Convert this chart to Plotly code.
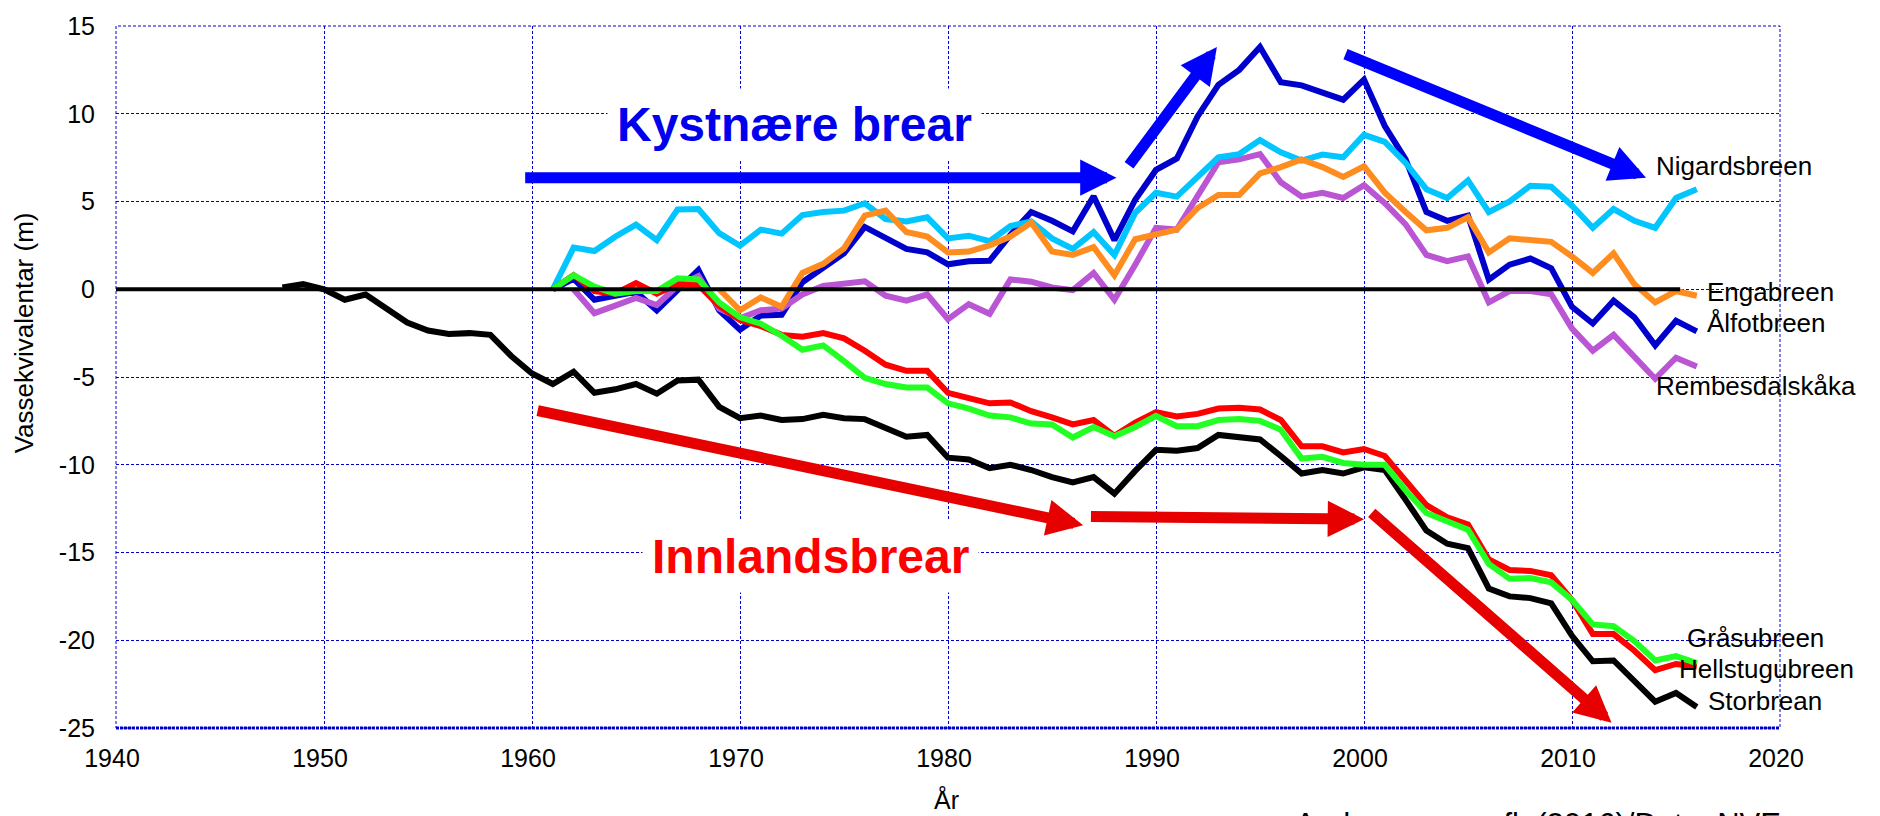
import plotly.graph_objects as go

# ---------------- data ----------------
years_61 = list(range(1961, 2017))
years_62 = list(range(1962, 2017))
years_69 = list(range(1969, 2017))
years_48 = list(range(1948, 2017))

nigardsbreen = [0, 2.37, 2.18, 2.99, 3.68, 2.8, 4.55, 4.57, 3.2, 2.48,
                3.4, 3.17, 4.23, 4.4, 4.48, 4.9, 4.0, 3.86, 4.1, 2.9,
                3.05, 2.74, 3.6, 3.86, 2.9, 2.3, 3.25, 1.95, 4.35, 5.5,
                5.28, 6.44, 7.52, 7.7, 8.5, 7.8, 7.33, 7.67, 7.52, 8.8,
                8.4, 7.2, 5.7, 5.2, 6.2, 4.4, 5.0, 5.9, 5.84, 4.76,
                3.5, 4.57, 3.9, 3.5, 5.2, 5.7]

alfotbreen = [0, 0.6, -0.6, -0.4, -0.15, -1.2, -0.1, 1.1, -1.2, -2.3,
              -1.5, -1.45, 0.4, 1.2, 2.05, 3.55, 2.9, 2.3, 2.1, 1.42,
              1.6, 1.62, 3.1, 4.4, 3.9, 3.3, 5.3, 2.8, 5.1, 6.8,
              7.45, 9.85, 11.65, 12.5, 13.8, 11.8, 11.62, 11.2, 10.8, 11.95,
              9.3, 7.4, 4.4, 3.9, 4.2, 0.55, 1.4, 1.75, 1.2, -1.0,
              -1.95, -0.65, -1.6, -3.2, -1.8, -2.4]

engabreen = [0, -1.2, -0.47, -1.0, 0.93, 1.45, 2.33, 4.2, 4.48, 3.26,
             3.0, 2.1, 2.15, 2.5, 3.0, 3.8, 2.15, 1.96, 2.4, 0.8,
             2.85, 3.15, 3.4, 4.63, 5.37, 5.37, 6.6, 6.96, 7.4, 6.96,
             6.4, 7.0, 5.5, 4.4, 3.36, 3.5, 4.1, 2.1, 2.9, 2.8,
             2.7, 1.87, 0.93, 2.05, 0.28, -0.75, -0.1, -0.37]

rembesdalskaka = [0, -1.36, -0.93, -0.5, -0.9, 0.2, 0.75, -1.1, -1.65,
                  -1.2, -1.1, -0.3, 0.19, 0.32, 0.45, -0.37, -0.65, -0.3, -1.7,
                  -0.85, -1.4, 0.56, 0.43, 0.1, -0.05, 0.93, -0.6, 1.4, 3.5,
                  3.4, 5.28, 7.24, 7.4, 7.7, 6.1, 5.28, 5.5, 5.2, 5.93,
                  4.9, 3.7, 1.96, 1.6, 1.87, -0.75, -0.1, -0.1, -0.28, -2.24,
                  -3.5, -2.6, -3.8, -5.1, -3.9, -4.4]

hellstugubreen = [0, 0.8, -0.1, -0.25, 0.35, -0.25, 0.3, 0.25, -0.95, -1.75,
                  -2.1, -2.6, -2.7, -2.5, -2.8, -3.5, -4.3, -4.65, -4.65, -5.9,
                  -6.2, -6.5, -6.45, -6.95, -7.3, -7.7, -7.45, -8.35, -7.6, -7.0,
                  -7.25, -7.1, -6.8, -6.75, -6.85, -7.45, -8.95, -8.95, -9.3, -9.1,
                  -9.5, -10.9, -12.3, -13.0, -13.4, -15.4, -16.0, -16.05, -16.3, -17.7,
                  -19.65, -19.65, -20.6, -21.7, -21.35, -21.5]

grasubreen = [0, 0.8, 0.15, -0.25, -0.1, -0.1, 0.62, 0.56, -0.75, -1.6,
              -1.96, -2.65, -3.45, -3.2, -4.1, -5.05, -5.4, -5.6, -5.6, -6.5,
              -6.8, -7.2, -7.3, -7.65, -7.7, -8.45, -7.85, -8.38, -7.85, -7.22,
              -7.8, -7.8, -7.45, -7.4, -7.5, -8.0, -9.65, -9.55, -9.9, -10.0,
              -10.0, -11.45, -12.75, -13.25, -13.7, -15.65, -16.5, -16.45, -16.7, -17.7,
              -19.1, -19.2, -20.05, -21.15, -20.9, -21.3]

storbrean = [0.1, 0.3, 0.0, -0.6, -0.3, -1.1, -1.9, -2.35, -2.55, -2.5,
             -2.6, -3.8, -4.8, -5.4, -4.7, -5.9, -5.7, -5.4, -5.95, -5.2,
             -5.15, -6.7, -7.35, -7.2, -7.45, -7.4, -7.15, -7.35, -7.4, -7.9,
             -8.4, -8.3, -9.6, -9.7, -10.2, -10.0, -10.3, -10.7, -11.0, -10.7,
             -11.65, -10.35, -9.15, -9.2, -9.05, -8.3, -8.45, -8.56, -9.5, -10.5,
             -10.3, -10.5, -10.15, -10.3, -12.0, -13.75, -14.5, -14.75, -17.05, -17.5,
             -17.6, -17.9, -19.75, -21.2, -21.15, -22.35, -23.5, -23.0, -23.8]

x_ticks = [1940, 1950, 1960, 1970, 1980, 1990, 2000, 2010, 2020]
y_ticks = [15, 10, 5, 0, -5, -10, -15, -20, -25]

FONT = "Liberation Sans, Arial, sans-serif"
GRID = "#0000CC"

series = [
    ("Ålfotbreen", years_61, alfotbreen, "#0000CD"),
    ("Rembesdalskåka", years_62, rembesdalskaka, "#BA55D3"),
    ("Nigardsbreen", years_61, nigardsbreen, "#00C5FF"),
    ("Engabreen", years_69, engabreen, "#FF8C1E"),
    ("Storbrean", years_48, storbrean, "#000000"),
    ("Hellstugubreen", years_61, hellstugubreen, "#FF0000"),
    ("Gråsubreen", years_61, grasubreen, "#22FF22"),
]

fig = go.Figure()
for name, xs, ys, col in series:
    fig.add_trace(go.Scatter(x=xs, y=ys, mode="lines", name=name,
                             line=dict(color=col, width=6), showlegend=False))

annotations = []
# end labels
labels = [
    ("Nigardsbreen", 2013.94, 7.03),
    ("Engabreen", 2016.4, -0.13),
    ("Ålfotbreen", 2016.4, -1.92),
    ("Rembesdalskåka", 2013.94, -5.5),
    ("Gråsubreen", 2015.43, -19.88),
    ("Hellstugubreen", 2015.05, -21.62),
    ("Storbrean", 2016.44, -23.45),
]
for txt, lx, ly in labels:
    annotations.append(dict(text=txt, x=lx, y=ly, xref="x", yref="y", xanchor="left",
                            yanchor="middle", showarrow=False,
                            font=dict(family=FONT, size=26, color="black")))

# group texts
annotations.append(dict(text="<b>Kystnære brear</b>", x=1972.6, y=9.4, xref="x", yref="y",
                        showarrow=False, bgcolor="white", borderpad=9,
                        font=dict(family=FONT, size=48, color="#0000EE")))
annotations.append(dict(text="<b>Innlandsbrear</b>", x=1973.4, y=-15.24, xref="x", yref="y",
                        showarrow=False, bgcolor="white", borderpad=9,
                        font=dict(family=FONT, size=48, color="#FF0000")))

# arrows (tip x,y ; tail ax,ay)
arrows = [
    (1988.1, 6.36, 1959.6, 6.36, "#0000FF"),
    (1992.93, 13.8, 1988.65, 6.98, "#0000FF"),
    (2013.56, 6.36, 1999.04, 13.43, "#0000FF"),
    (1986.5, -13.45, 1960.2, -6.9, "#E60000"),
    (2000.0, -13.1, 1986.8, -12.95, "#E60000"),
    (2011.9, -24.7, 2000.3, -12.67, "#E60000"),
]
for tx, ty, tax, tay, col in arrows:
    annotations.append(dict(text="", x=tx, y=ty, ax=tax, ay=tay, xref="x", yref="y",
                            axref="x", ayref="y", showarrow=True, arrowhead=2,
                            arrowwidth=11, arrowsize=0.66, arrowcolor=col, standoff=0))

# axis titles and source
annotations.append(dict(text="År", x=0.4988, y=-0.102, xref="paper", yref="paper",
                        xanchor="center", yanchor="middle", showarrow=False,
                        font=dict(family=FONT, size=25, color="black")))
annotations.append(dict(text="Vassekvivalentar (m)", x=-0.0553, y=0.5636, xref="paper",
                        yref="paper", xanchor="center", yanchor="middle", textangle=-90,
                        showarrow=False, font=dict(family=FONT, size=26, color="black")))
annotations.append(dict(text="Andreassen m.fl. (2016)/Data: NVE", x=0.7073, y=-0.109,
                        xref="paper", yref="paper", xanchor="left", yanchor="top",
                        showarrow=False, font=dict(family=FONT, size=31, color="black")))

shapes = [
    dict(type="rect", xref="paper", yref="paper", x0=0, x1=1, y0=0, y1=1,
         line=dict(color=GRID, width=1, dash="3px,2px"), layer="above"),
    dict(type="line", xref="paper", yref="paper", x0=0, x1=1, y0=0, y1=0,
         line=dict(color=GRID, width=3, dash="3px,1px"), layer="above"),
    dict(type="line", xref="x", yref="y", x0=1940, x1=2015.2, y0=0, y1=0,
         line=dict(color="black", width=4), layer="above"),
]

fig.update_layout(
    width=1880, height=816,
    margin=dict(l=116, r=100, t=13, b=88),
    paper_bgcolor="white", plot_bgcolor="white",
    font=dict(family=FONT, size=25, color="black"),
    annotations=annotations, shapes=shapes,
    showlegend=False,
)
fig.update_xaxes(range=[1940, 2020], tickvals=x_ticks, ticktext=[str(v) for v in x_ticks],
                 showgrid=True, gridcolor=GRID, gridwidth=1, griddash="3px,2px",
                 zeroline=False, showline=False, ticks="", ticklabelstandoff=13,
                 ticklabelshift=-4, tickfont=dict(family=FONT, size=25, color="black"))
fig.update_yaxes(range=[-25, 15], tickvals=y_ticks, ticktext=[str(v) for v in y_ticks],
                 showgrid=True, gridcolor=GRID, gridwidth=1, griddash="3px,2px",
                 zeroline=False, showline=False, ticks="", ticklabelstandoff=20,
                 ticklabeloverflow="allow",
                 tickfont=dict(family=FONT, size=25, color="black"))

fig.write_html("out.html", config={"displayModeBar": False},
               post_script="document.body.style.margin='0';document.body.style.overflow='hidden';")
